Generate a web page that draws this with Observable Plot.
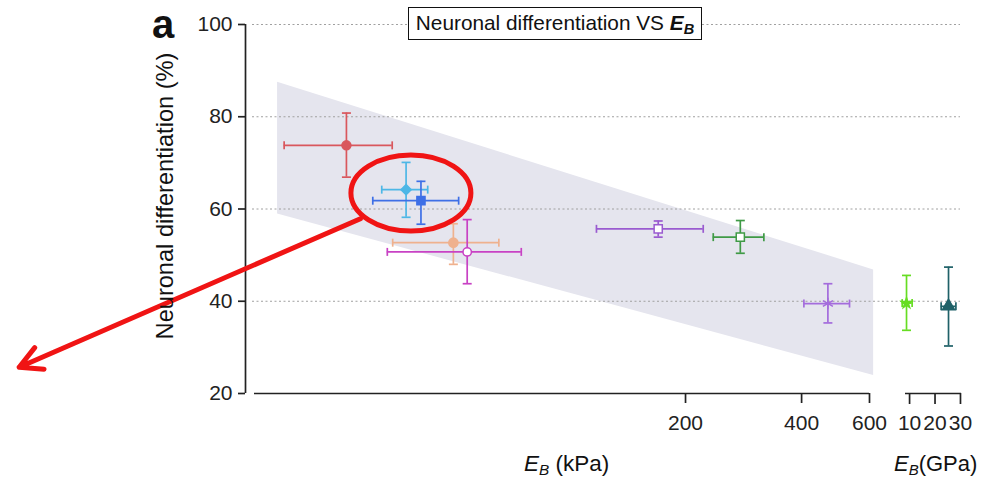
<!DOCTYPE html>
<html><head><meta charset="utf-8">
<script src="https://cdn.jsdelivr.net/npm/d3@7"></script>
<script src="https://cdn.jsdelivr.net/npm/@observablehq/plot@0.6"></script>
<style>
body{margin:0;background:#fff;}
#wrap{position:relative;width:986px;height:480px;font-family:"Liberation Sans",Arial,sans-serif;color:#111;}
#wrap svg{position:absolute;left:0;top:0;}
.lbl{position:absolute;line-height:1;white-space:nowrap;}
.lbl sub{font-size:0.68em;line-height:1;vertical-align:baseline;position:relative;top:0.25em;}
#title{position:absolute;left:408px;top:7px;width:294px;height:33px;box-sizing:border-box;border:1.5px solid #111;background:#fff;text-align:center;font-size:20.8px;line-height:30px;white-space:nowrap;}
#title sub{font-size:0.7em;line-height:1;vertical-align:baseline;position:relative;top:0.3em;}
</style></head><body>
<div id="wrap"></div>
<script>
// ---------- data ----------
// kPa substrates (x in kPa, log scale)
const kpaX   = [26.4, 37.7, 41.2, 50.0, 54.3, 169.9, 277.4, 468];
const kpaXlo = [18.2, 32.6, 30.9, 34.8, 33.7, 117.5, 236.0, 405.5];
const kpaXhi = [34.7, 42.9, 51.6, 65.6, 75.0, 222.3, 319.3, 532.5];
const kpaY   = [73.8, 64.2, 61.8, 52.7, 50.7, 55.7, 53.9, 39.5];
const kpaYlo = [66.9, 58.2, 56.7, 48.0, 43.8, 53.9, 50.4, 35.3];
const kpaYhi = [80.8, 70.1, 66.0, 56.8, 57.7, 57.4, 57.5, 43.8];
// GPa substrates (x in GPa, linear)
const gpaX   = [8.8, 25.3];
const gpaXlo = [7.1, 22.4];
const gpaXhi = [11.0, 28.2];
const gpaY   = [39.6, 38.9];
const gpaYlo = [33.7, 30.3];
const gpaYhi = [45.6, 47.4];
// trend band (kPa, %)
const bandX  = [17.5, 615];
const bandLo = [58.9, 23.9];
const bandHi = [87.5, 46.8];
// annotation (kPa, %)
const ellipseAt = [38.8, 63.45];
const arrowFrom = [28.7, 57.9];
const arrowTo   = [3.74, 25.7];
// scales / ticks
const yDomain   = [20, 100];
const yTicks    = [20, 40, 60, 80, 100];
const gridTicks = [40, 60, 80, 100];
const kpaDomain = [14.45, 600];
const kpaTicks  = [200, 400, 600];
const gpaDomain = [8.4, 30.4];
const gpaTicks  = [10, 20, 30];

// ---------- styles ----------
const kpaColors  = ["#d9575d", "#4db7e6", "#3e6fe6", "#efb18e", "#c842c4", "#9a5bd0", "#3f9a46", "#a46cdc"];
const kpaFills   = ["#d9575d", "#4db7e6", "#3e6fe6", "#efb18e", "#ffffff", "#ffffff", "#ffffff", "none"];
const kpaSymbols = ["circle", "diamond2", "square", "circle", "circle", "square", "square", "asterisk"];
const kpaR       = [4.5, 4.6, 4.6, 4.6, 4.2, 4.6, 4.6, 5.5];
const gpaColors  = ["#66dd22", "#1f6168"];
const gpaFills   = ["#66dd22", "#1f6168"];
const gpaSymbols = ["star", "triangle"];
const gpaR       = [3.2, 4.5];

const font = '"Liberation Sans", Arial, sans-serif';
const W = 986, H = 480, MT = 24, MB = 87;
const AX = "#222";

const vCap = {draw(ctx, size){const h = Math.sqrt(size / Math.PI); ctx.moveTo(0, -h); ctx.lineTo(0, h);}};
const hCap = {draw(ctx, size){const h = Math.sqrt(size / Math.PI); ctx.moveTo(-h, 0); ctx.lineTo(h, 0);}};
const ellipseSym = {draw(ctx){
  const rx = 60, ry = 38, k = 0.5523;
  ctx.moveTo(rx, 0);
  ctx.bezierCurveTo(rx, k*ry, k*rx, ry, 0, ry);
  ctx.bezierCurveTo(-k*rx, ry, -rx, k*ry, -rx, 0);
  ctx.bezierCurveTo(-rx, -k*ry, -k*rx, -ry, 0, -ry);
  ctx.bezierCurveTo(k*rx, -ry, rx, -k*ry, rx, 0);
  ctx.closePath();
}};

function pointMarks(X, Xlo, Xhi, Y, Ylo, Yhi, colors, fills, symbols, radii) {
  const marks = [];
  X.forEach((_, i) => {
    const c = colors[i];
    const d = [i];
    marks.push(Plot.ruleY(d, {y: j => Y[j], x1: j => Xlo[j], x2: j => Xhi[j], stroke: c, strokeWidth: 1.7}));
    marks.push(Plot.ruleX(d, {x: j => X[j], y1: j => Ylo[j], y2: j => Yhi[j], stroke: c, strokeWidth: 1.7}));
    marks.push(Plot.dot([Xlo[i], Xhi[i]], {x: v => v, y: () => Y[i], symbol: vCap, r: 4, stroke: c, fill: "none", strokeWidth: 1.7}));
    marks.push(Plot.dot([Ylo[i], Yhi[i]], {x: () => X[i], y: v => v, symbol: hCap, r: 4.5, stroke: c, fill: "none", strokeWidth: 1.7}));
    marks.push(Plot.dot(d, {x: j => X[j], y: j => Y[j], symbol: symbols[i], r: radii[i], fill: fills[i], stroke: c, strokeWidth: 1.5}));
  });
  return marks;
}

const baseStyle = {background: "transparent", fontFamily: font, fontSize: "21px", color: AX, overflow: "visible"};

const plotA = Plot.plot({
  width: W, height: H, marginTop: MT, marginBottom: MB, marginLeft: 245, marginRight: 26,
  style: baseStyle,
  x: {type: "log", domain: kpaDomain, range: [245, 869]},
  y: {domain: yDomain},
  marks: [
    Plot.areaY(d3.range(bandX.length), {x: i => bandX[i], y1: i => bandLo[i], y2: i => bandHi[i], fill: "#e5e5ee"}),
    Plot.gridY({ticks: gridTicks, stroke: "#a0a0a0", strokeOpacity: 1, strokeDasharray: "2,2.5", insetLeft: 7}),
    Plot.ruleX([kpaDomain[0]], {stroke: AX, strokeWidth: 1.7}),
    Plot.axisY({ticks: yTicks, tickSize: 7, tickPadding: 6, label: null, fontSize: 21, strokeWidth: 1.7, stroke: AX}),
    Plot.ruleY([yDomain[0]], {x1: kpaDomain[0], x2: kpaDomain[1], insetLeft: 9, stroke: AX, strokeWidth: 1.7}),
    Plot.axisX({ticks: kpaTicks, tickFormat: d3.format("d"), tickSize: 10, tickPadding: 12, label: null, fontSize: 21, strokeWidth: 1.7, stroke: AX}),
    ...pointMarks(kpaX, kpaXlo, kpaXhi, kpaY, kpaYlo, kpaYhi, kpaColors, kpaFills, kpaSymbols, kpaR),
    Plot.dot([0], {x: () => ellipseAt[0], y: () => ellipseAt[1], symbol: ellipseSym, r: 1, fill: "none", stroke: "#f01414", strokeWidth: 5}),
    Plot.arrow([0], {x1: () => arrowFrom[0], y1: () => arrowFrom[1], x2: () => arrowTo[0], y2: () => arrowTo[1],
      stroke: "#f01414", strokeWidth: 5, headLength: 7.5, headAngle: 56, strokeLinecap: "round", strokeLinejoin: "round"})
  ]
});

const plotB = Plot.plot({
  width: W, height: H, marginTop: MT, marginBottom: MB, marginLeft: 905, marginRight: 25,
  style: baseStyle,
  x: {domain: gpaDomain},
  y: {domain: yDomain, axis: null},
  marks: [
    Plot.ruleY([yDomain[0]], {x1: gpaDomain[0], x2: gpaDomain[1], stroke: AX, strokeWidth: 1.7}),
    Plot.axisX({ticks: gpaTicks, tickFormat: d3.format("d"), tickSize: 11, tickPadding: 11, label: null, fontSize: 21, strokeWidth: 1.7, stroke: AX}),
    ...pointMarks(gpaX, gpaXlo, gpaXhi, gpaY, gpaYlo, gpaYhi, gpaColors, gpaFills, gpaSymbols, gpaR)
  ]
});

const wrap = document.getElementById("wrap");
wrap.appendChild(plotA);
wrap.appendChild(plotB);

function addLabel(html, css, cls) {
  const el = document.createElement("div");
  if (cls) el.className = cls;
  el.innerHTML = html;
  Object.assign(el.style, css);
  wrap.appendChild(el);
  return el;
}
addLabel('Neuronal differentiation VS <b><i>E<sub>B</sub></i></b>', {}, null).id = "title";
addLabel('a', {left: "152px", top: "4px", fontSize: "40px", fontWeight: "bold"}, "lbl");
addLabel('<i>E<sub>B</sub></i> (kPa)', {left: "524px", top: "453px", fontSize: "22.5px"}, "lbl");
addLabel('<i>E<sub>B</sub></i>(GPa)', {left: "894px", top: "453px", fontSize: "22px"}, "lbl");
addLabel('Neuronal differentiation (%)', {left: "166px", top: "196px", fontSize: "23.6px", transform: "translate(-50%,-50%) rotate(-90deg)"}, "lbl");
</script>
</body></html>
